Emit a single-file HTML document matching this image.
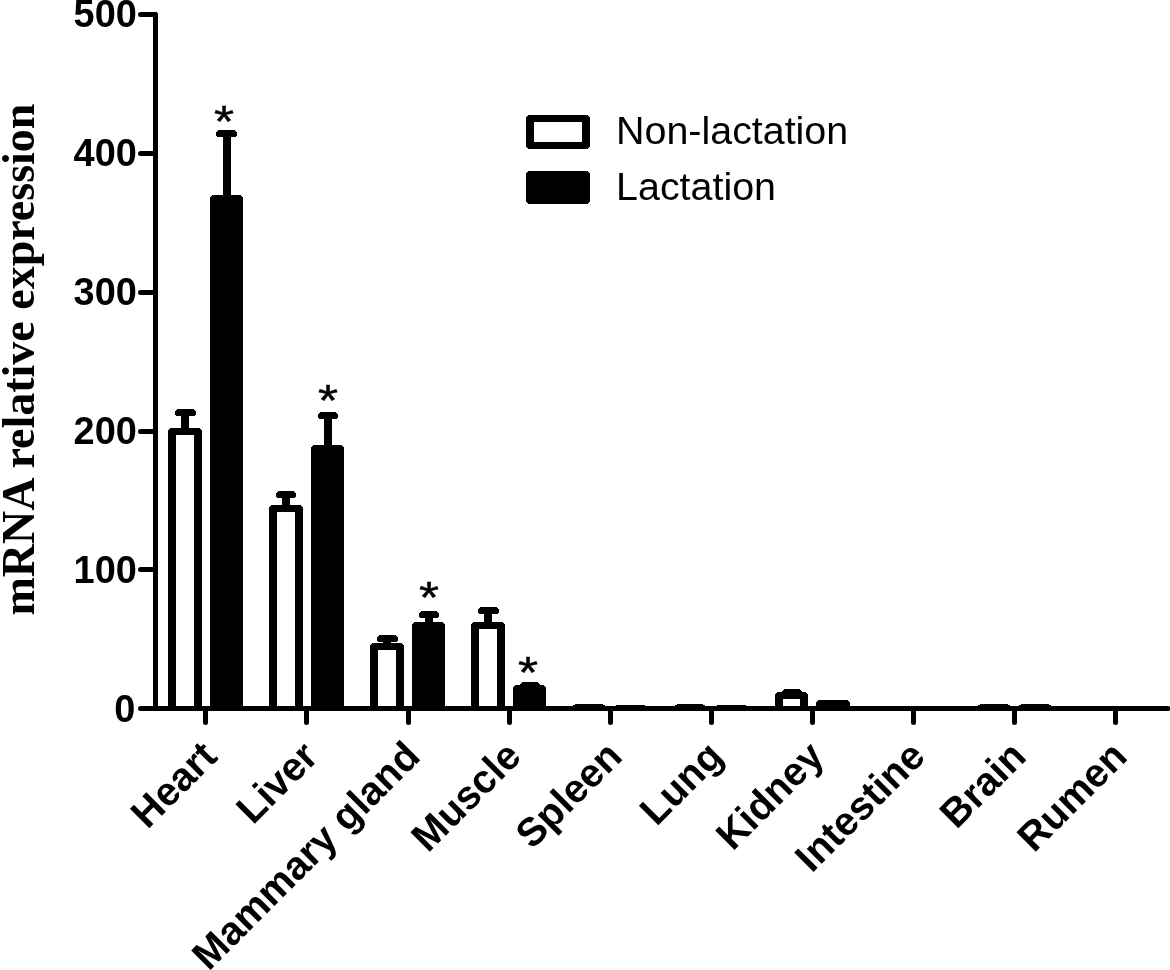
<!DOCTYPE html>
<html lang="en"><head><meta charset="utf-8"><title>mRNA relative expression</title>
<style>
html,body{margin:0;padding:0;background:#fff;}
body{width:1170px;height:970px;overflow:hidden;position:relative;}
svg{position:absolute;left:0;top:0;display:block;}
.sans{font-family:"Liberation Sans",Arial,Helvetica,sans-serif;}
.serif{font-family:"Liberation Serif","Times New Roman",Times,serif;}
.b{font-weight:bold;}
.shape{shape-rendering:crispEdges;}
.ln{stroke:#000;stroke-width:5;stroke-linecap:round;fill:none;}
</style></head><body>
<svg width="1170" height="970" viewBox="0 0 1170 970">
<rect x="0" y="0" width="1170" height="970" fill="#fff"/>
<g class="ln">
<line x1="155.5" y1="14.5" x2="155.5" y2="708.5"/>
<line x1="140.5" y1="708.5" x2="1168" y2="708.5"/>
<line x1="155" y1="14.5" x2="140.5" y2="14.5"/>
<line x1="155" y1="153.5" x2="140.5" y2="153.5"/>
<line x1="155" y1="292.5" x2="140.5" y2="292.5"/>
<line x1="155" y1="431.5" x2="140.5" y2="431.5"/>
<line x1="155" y1="569.5" x2="140.5" y2="569.5"/>
<line x1="205.5" y1="709" x2="205.5" y2="722.5"/>
<line x1="306.5" y1="709" x2="306.5" y2="722.5"/>
<line x1="408.5" y1="709" x2="408.5" y2="722.5"/>
<line x1="509.5" y1="709" x2="509.5" y2="722.5"/>
<line x1="610.5" y1="709" x2="610.5" y2="722.5"/>
<line x1="711.5" y1="709" x2="711.5" y2="722.5"/>
<line x1="812.5" y1="709" x2="812.5" y2="722.5"/>
<line x1="913.5" y1="709" x2="913.5" y2="722.5"/>
<line x1="1014.5" y1="709" x2="1014.5" y2="722.5"/>
<line x1="1115.5" y1="709" x2="1115.5" y2="722.5"/>
</g>
<g class="shape">
<rect x="168" y="428" width="34" height="282" fill="#000" rx="4"/>
<rect x="176" y="435" width="18" height="271" fill="#fff"/>
<rect x="175" y="409" width="21" height="7" fill="#000" rx="3.5"/>
<rect x="181" y="410" width="8" height="19" fill="#000"/>
<rect x="210" y="195" width="33" height="515" fill="#000" rx="4"/>
<rect x="216" y="130" width="21" height="7" fill="#000" rx="3.5"/>
<rect x="223" y="131" width="8" height="65" fill="#000"/>
<rect x="269" y="505" width="34" height="205" fill="#000" rx="4"/>
<rect x="277" y="512" width="18" height="194" fill="#fff"/>
<rect x="276" y="491" width="20" height="7" fill="#000" rx="3.5"/>
<rect x="282" y="492" width="8" height="14" fill="#000"/>
<rect x="311" y="445" width="33" height="265" fill="#000" rx="4"/>
<rect x="318" y="412" width="20" height="7" fill="#000" rx="3.5"/>
<rect x="324" y="413" width="8" height="33" fill="#000"/>
<rect x="370" y="643" width="34" height="67" fill="#000" rx="4"/>
<rect x="378" y="650" width="18" height="56" fill="#fff"/>
<rect x="377" y="635" width="21" height="7" fill="#000" rx="3.5"/>
<rect x="383" y="636" width="8" height="8" fill="#000"/>
<rect x="412" y="622" width="33" height="88" fill="#000" rx="4"/>
<rect x="419" y="611" width="20" height="7" fill="#000" rx="3.5"/>
<rect x="425" y="612" width="8" height="11" fill="#000"/>
<rect x="471" y="622" width="34" height="88" fill="#000" rx="4"/>
<rect x="479" y="629" width="18" height="77" fill="#fff"/>
<rect x="478" y="607" width="21" height="7" fill="#000" rx="3.5"/>
<rect x="484" y="608" width="8" height="15" fill="#000"/>
<rect x="513" y="685" width="33" height="25" fill="#000" rx="4"/>
<rect x="520" y="682" width="20" height="7" fill="#000" rx="3.5"/>
<rect x="526" y="683" width="8" height="3" fill="#000"/>
<rect x="573" y="704" width="32" height="6" fill="#000" rx="4"/>
<rect x="615" y="705" width="31" height="5" fill="#000" rx="4"/>
<rect x="675" y="704" width="30" height="6" fill="#000" rx="4"/>
<rect x="716" y="705" width="31" height="5" fill="#000" rx="4"/>
<rect x="775" y="692" width="33" height="18" fill="#000" rx="4"/>
<rect x="783" y="699" width="17" height="7" fill="#fff"/>
<rect x="782" y="689" width="20" height="7" fill="#000" rx="3.5"/>
<rect x="787" y="690" width="8" height="3" fill="#000"/>
<rect x="816" y="700" width="34" height="10" fill="#000" rx="4"/>
<rect x="978" y="704" width="32" height="6" fill="#000" rx="4"/>
<rect x="1019" y="704" width="32" height="6" fill="#000" rx="4"/>
<rect x="526" y="115" width="64" height="34" fill="#000" rx="4"/>
<rect x="534" y="122" width="48" height="20" fill="#fff"/>
<rect x="526" y="171" width="64" height="33" fill="#000" rx="4"/>
</g>
<g class="sans b" font-size="38.3" text-anchor="end" fill="#000">
<text transform="translate(136.8 26.5) scale(0.99 1)">500</text>
<text transform="translate(136.8 165.5) scale(0.99 1)">400</text>
<text transform="translate(136.8 304.7) scale(0.99 1)">300</text>
<text transform="translate(136.8 443.7) scale(0.99 1)">200</text>
<text transform="translate(136.8 582.7) scale(0.99 1)">100</text>
<text transform="translate(135.3 721.7) scale(0.99 1)">0</text>
</g>
<g class="sans" font-size="39.4" fill="#000">
<text x="616.1" y="143.8">Non-lactation</text>
<text x="616.1" y="200.4">Lactation</text>
</g>
<g class="sans" font-size="51.5" fill="#000" stroke="#000" stroke-width="0.5" text-anchor="middle">
<text transform="translate(224 106) scale(1 0.87)" y="35.43">*</text>
<text transform="translate(328 385) scale(1 0.87)" y="35.43">*</text>
<text transform="translate(429.1 582) scale(1 0.87)" y="35.43">*</text>
<text transform="translate(528 657) scale(1 0.87)" y="35.43">*</text>
</g>
<g class="sans b" font-size="40" fill="#000" text-anchor="end">
<text transform="translate(219.0 758.5) rotate(-45) scale(0.99 1)">Heart</text>
<text transform="translate(320.0 758.5) rotate(-45) scale(0.99 1)">Liver</text>
<text transform="translate(422.0 758.5) rotate(-45) scale(0.99 1)">Mammary gland</text>
<text transform="translate(523.0 758.5) rotate(-45) scale(0.99 1)">Muscle</text>
<text transform="translate(624.0 758.5) rotate(-45) scale(0.99 1)">Spleen</text>
<text transform="translate(725.0 758.5) rotate(-45) scale(0.99 1)">Lung</text>
<text transform="translate(826.0 758.5) rotate(-45) scale(0.99 1)">Kidney</text>
<text transform="translate(927.0 758.5) rotate(-45) scale(0.99 1)">Intestine</text>
<text transform="translate(1028.0 758.5) rotate(-45) scale(0.99 1)">Brain</text>
<text transform="translate(1129.0 758.5) rotate(-45) scale(0.99 1)">Rumen</text>
</g>
<text class="serif b" font-size="46" fill="#000" text-anchor="middle" transform="translate(34 359.5) rotate(-90)">mRNA relative expression</text>
</svg>
</body></html>
